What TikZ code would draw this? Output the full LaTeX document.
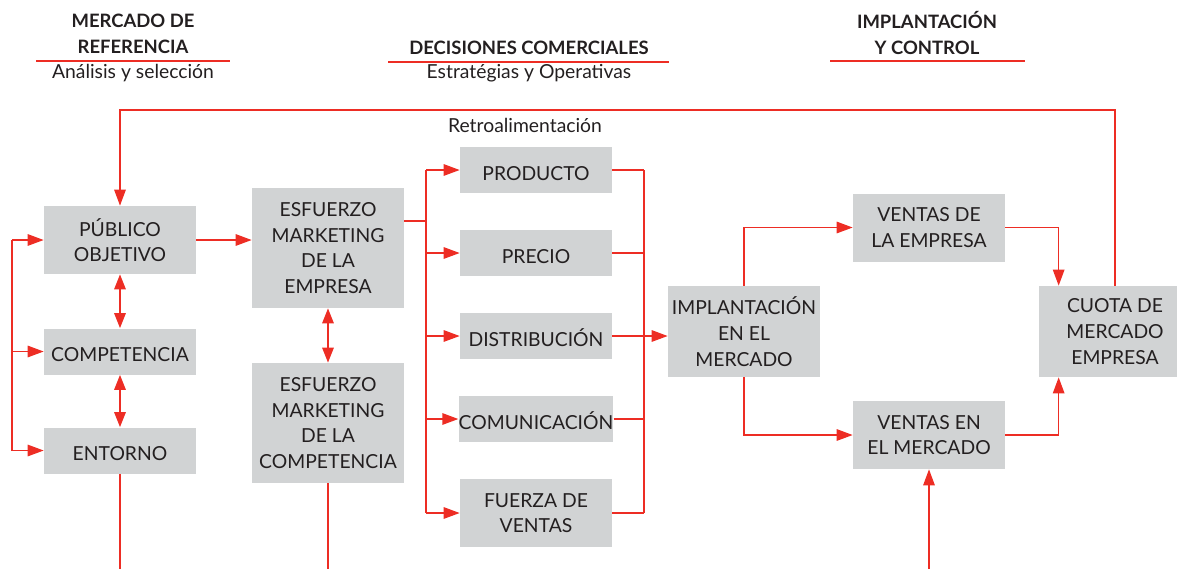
\documentclass[tikz,border=0pt]{standalone}
\usepackage{fontspec}
\setmainfont{Lato}
\definecolor{LineRed}{RGB}{237,45,36}
\definecolor{BoxGray}{RGB}{209,211,212}
\definecolor{TextDark}{RGB}{35,31,32}
\usetikzlibrary{arrows.meta, positioning, calc}

\begin{document}
\begin{tikzpicture}[x=0.02cm, y=-0.02cm,
        box/.style={rectangle, fill=BoxGray, text=TextDark, inner sep=0pt, minimum width=3.04cm, minimum height=0.92cm, align=center, font=\fontsize{11}{14.6}\selectfont, execute at begin node={\rule{0pt}{11.6pt}}},
        tall/.style={box, minimum height=1.36cm, text depth=-2.8pt},
        taller/.style={tall, minimum height=1.82cm},
        tallest/.style={tall, minimum height=2.4cm},
        head/.style={text=TextDark, align=center, font=\bfseries\fontsize{10.5}{15}\selectfont},
        sub/.style={text=TextDark, align=center, font=\fontsize{11}{13}\selectfont},
        rule/.style={draw=LineRed, line width=0.8pt},
        link/.style={draw=LineRed, line width=0.8pt},
        arrow/.style={link, -{Triangle[length=0.32cm, width=0.23cm]}},
        twoway/.style={link, {Triangle[length=0.3cm, width=0.23cm]}-{Triangle[length=0.3cm, width=0.23cm]}}
    ]
        \useasboundingbox (0,0) rectangle (1177,569);
        % headers
        \node[head] (h1) at (133,34) {MERCADO DE\\REFERENCIA};
        \node[sub] (s1) at (133,73) {Análisis y selección};
        \draw[rule] (36,61) -- (230,61);
        \node[head] (h2) at (529,48) {DECISIONES COMERCIALES};
        \node[sub] (s2) at (529,73) {Estratégias y Operativas};
        \draw[rule] (388,62) -- (669,62);
        \node[head] (h3) at (927,33) {IMPLANTACIÓN\\Y CONTROL};
        \draw[rule] (830,61) -- (1025,61);
        \node[sub] (retrolbl) at (525,125) {Retroalimentación};

        \node[tall] (pub) at (120,240) {PÚBLICO\\OBJETIVO};
        \node[box] (comp) at (120,351.5) {COMPETENCIA};
        \node[box] (ent) at (120,450.5) {ENTORNO};
        \node[tallest] (esfemp) at (328,248) {ESFUERZO\\MARKETING\\DE LA\\EMPRESA};
        \node[tallest] (esfcomp) at (328,423) {ESFUERZO\\MARKETING\\DE LA\\COMPETENCIA};
        \node[box] (prod) at (536,170) {PRODUCTO};
        \node[box] (prec) at (536,253) {PRECIO};
        \node[box] (dist) at (536,336) {DISTRIBUCIÓN};
        \node[box] (comu) at (536,419) {COMUNICACIÓN};
        \node[tall] (fuer) at (536,513) {FUERZA DE\\VENTAS};
        \node[taller] (impl) at (744,331.5) {IMPLANTACIÓN\\EN EL\\MERCADO};
        \node[tall] (vemp) at (929,227.5) {VENTAS DE\\LA EMPRESA};
        \node[tall] (vmer) at (929,435) {VENTAS EN\\EL MERCADO};
        \node[taller] (cuota) at (1115,331.5) {CUOTA DE\\MERCADO\\EMPRESA};

        \coordinate (top) at (0,110);
        \coordinate (lb) at (12,0);
        \coordinate (split) at (426,221);
        \coordinate (join) at (644,0);
        \coordinate (foot) at (0,569);

        % retroalimentacion
        \draw[arrow] (cuota.north) -- (cuota.north |- top) -| (pub.north);
        % left column
        \draw[link] (pub.west -| lb) -- (ent.west -| lb);
        \foreach \n in {pub, comp, ent}
            \draw[arrow] (\n.west -| lb) -- (\n.west);
        \draw[twoway] (pub) -- (comp);
        \draw[twoway] (comp) -- (ent);
        \draw[link] (ent.south) -- (ent.south |- foot);
        \draw[arrow] (pub.east) -- (pub.east -| esfemp.west);
        \draw[twoway] (esfemp) -- (esfcomp);
        \draw[link] (esfcomp.south) -- (esfcomp.south |- foot);
        % mix
        \draw[link] (esfemp.east |- split) -- (split);
        \draw[link] (split |- prod) -- (split |- fuer);
        \draw[link] (join |- prod) -- (join |- fuer);
        \foreach \n in {prod, prec, dist, comu, fuer} {
            \draw[arrow] (split |- \n) -- (\n.west);
            \draw[link] (\n.east) -- (join |- \n);
        }
        \draw[arrow] (dist.east) -- (dist.east -| impl.west);
        % control
        \draw[arrow] (impl.north) |- (vemp.west);
        \draw[arrow] (impl.south) |- (vmer.west);
        \draw[arrow] (vemp.east) -| ([xshift=0.4cm]cuota.north west);
        \draw[arrow] (vmer.east) -| ([xshift=0.4cm]cuota.south west);
        \draw[arrow] (vmer.south |- foot) -- (vmer.south);
    \end{tikzpicture}
\end{document}
